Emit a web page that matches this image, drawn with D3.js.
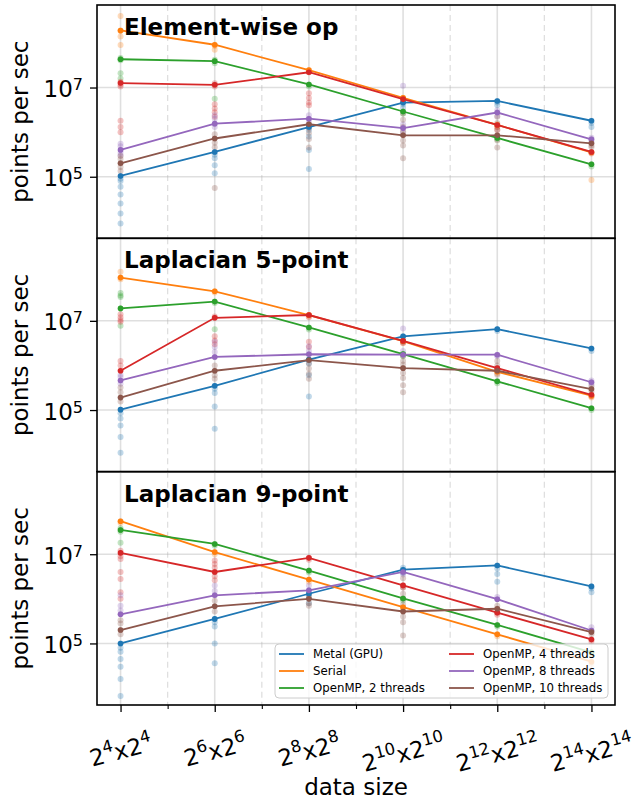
<!DOCTYPE html>
<html>
<head>
<meta charset="utf-8">
<script src="https://cdn.jsdelivr.net/npm/d3@7"></script>
<style>
  body { margin: 0; background: #fff; }
  svg { display: block; font-family: "DejaVu Sans", sans-serif; }
</style>
</head>
<body>
<svg id="chart" width="632" height="800"></svg>
<script>
// ---- data ----------------------------------------------------------------
// grid side length is 2^e, for e in exponents
const exponents = [4, 6, 8, 10, 12, 14];
const minorExponents = [5, 7, 9, 11, 13];
const yTickValues = [1e5, 1e7];
const yTickExponents = ["5", "7"];

const seriesNames = ["Metal (GPU)", "Serial", "OpenMP, 2 threads",
                     "OpenMP, 4 threads", "OpenMP, 8 threads", "OpenMP, 10 threads"];
const seriesColors = ["#1f77b4", "#ff7f0e", "#2ca02c", "#d62728", "#9467bd", "#8c564b"];
const panelTitles = ["Element-wise op", "Laplacian 5-point", "Laplacian 9-point"];

// average throughput (points per sec), one row per series, one column per size
const elementwiseMeans = [
  [1.04e5, 3.6e5, 1.3e6, 4.6e6, 5.0e6, 1.8e6],
  [1.9e8, 9.1e7, 2.45e7, 5.9e6, 1.45e6, 3.5e5],
  [4.3e7, 3.9e7, 1.17e7, 2.9e6, 7.4e5, 1.9e5],
  [1.26e7, 1.15e7, 2.2e7, 5.5e6, 1.45e6, 3.6e5],
  [4.0e5, 1.55e6, 2.0e6, 1.23e6, 2.75e6, 6.9e5],
  [2.0e5, 7.2e5, 1.5e6, 8.5e5, 8.5e5, 5.6e5]
];
const laplace5Means = [
  [1.02e5, 3.5e5, 1.35e6, 4.5e6, 6.5e6, 2.4e6],
  [9.3e7, 4.6e7, 1.35e7, 3.5e6, 7.2e5, 2.1e5],
  [1.9e7, 2.7e7, 7.1e6, 1.8e6, 4.4e5, 1.1e5],
  [7.6e5, 1.17e7, 1.35e7, 3.55e6, 8.7e5, 2.2e5],
  [4.6e5, 1.55e6, 1.78e6, 1.74e6, 1.74e6, 4.2e5],
  [1.9e5, 7.6e5, 1.32e6, 8.7e5, 7.6e5, 2.95e5]
];
const laplace9Means = [
  [1.0e5, 3.55e5, 1.3e6, 4.5e6, 5.6e6, 1.9e6],
  [5.5e7, 1.12e7, 2.7e6, 6.5e5, 1.6e5, 3.9e4],
  [3.5e7, 1.7e7, 4.3e6, 1.02e6, 2.6e5, 6.3e4],
  [1.07e7, 4.0e6, 8.3e6, 2.0e6, 4.9e5, 1.23e5],
  [4.5e5, 1.2e6, 1.55e6, 4.0e6, 9.8e5, 1.95e5],
  [2.0e5, 6.8e5, 1.0e6, 5.2e5, 6.0e5, 1.8e5]
];

// individual runs, one list per series and size
const elementwiseRuns = [
  [[1.04e5, 9e4, 8e4, 6e4, 4e4, 2.5e4, 1.5e4, 9e3], [3.6e5, 3.1e5, 2.6e5, 1.8e5, 1.2e5], [1.3e6, 1.1e6, 8e5, 4e5, 1.5e5], [4.6e6, 4.2e6, 3.5e6], [5.0e6, 4.6e6, 4.0e6], [1.8e6, 1.6e6, 1.3e6]],
  [[4.0e8, 1.9e8, 1.85e8, 1.4e8, 9e7], [9.1e7, 8.5e7, 7e7], [2.45e7, 2.2e7], [5.9e6, 5.4e6], [1.5e6, 1.3e6], [3.5e5, 8.5e4]],
  [[4.3e7, 4.6e7, 4.1e7, 2.1e7, 1.6e7], [3.9e7, 4.2e7, 3.5e7, 5.6e6], [1.17e7, 1.05e7], [2.9e6, 2.6e6], [7.4e5, 6.8e5], [1.9e5, 1.7e5]],
  [[1.26e7, 1.35e7, 1.15e7, 1.05e7, 1.8e6, 1.3e6, 1.0e6], [1.15e7, 1.25e7, 1.05e7, 4.2e6, 3.4e6, 2.8e6, 2.2e6], [2.2e7, 7.4e6, 5.8e6, 4.6e6, 4.0e6], [5.5e6, 4.8e6], [1.45e6, 1.3e6, 1.1e6], [3.6e5, 3.3e5]],
  [[4.0e5, 4.8e5, 5.5e5, 3.4e5, 3.0e5], [1.55e6, 2.0e6, 2.4e6, 1.3e6], [2.0e6, 2.4e6, 1.7e6], [1.23e6, 1.1e7, 1.5e6, 1.0e6], [2.75e6, 2.3e6, 3.1e6], [6.9e5, 6.2e5, 7.5e5]],
  [[2.0e5, 2.5e5, 2.9e5, 1.65e5, 1.35e5], [7.2e5, 9e5, 5.8e5, 4.6e5, 5.6e4], [1.5e6, 1.2e6, 9.5e5, 7e5, 4.5e5], [8.5e5, 2.6e6, 1.9e6, 1.3e6, 1.05e6, 6.5e5, 5e5, 2.6e5], [8.5e5, 2.2e6, 1.6e6, 1.15e6, 6.5e5, 4.5e5], [5.6e5, 5e5, 4.6e5]]
];
const laplace5Runs = [
  [[1.02e5, 8.5e4, 6.5e4, 4.5e4, 2.5e4, 1.1e4], [3.5e5, 3.0e5, 2.4e5, 1.2e5, 3.8e4], [1.35e6, 1.1e6, 6e5, 2e5], [4.5e6, 4.0e6, 3.3e6], [6.5e6, 5.9e6], [2.4e6, 2.1e6]],
  [[1.26e8, 9.3e7, 8.6e7], [4.6e7, 4.3e7], [1.35e7, 1.25e7], [3.5e6, 3.2e6], [7.2e5, 6.6e5], [2.1e5, 1.9e5]],
  [[4.2e7, 3.7e7, 3.4e7, 1.9e7, 7.8e6], [2.7e7, 2.5e7, 6.5e6], [7.1e6, 6.4e6], [1.8e6, 1.6e6], [4.4e5, 4e5], [1.1e5, 1e5]],
  [[1.4e7, 1.2e7, 1.05e7, 9.5e6, 1.25e6, 1.0e6, 7.6e5], [1.17e7, 1.25e7, 4.5e6, 3.6e6, 3.0e6], [1.35e7, 1.2e7, 3.4e6, 2.6e6], [3.55e6, 3.2e6], [8.7e5, 8e5], [2.2e5, 2.0e5]],
  [[4.6e5, 5.5e5, 6.2e5, 3.9e5], [1.55e6, 2.0e6, 2.6e6, 3.4e6], [1.78e6, 2.1e6, 2.7e6], [1.74e6, 6.7e6, 2.1e6], [1.74e6, 1.6e6], [4.2e5, 4.6e5, 3.8e5]],
  [[1.9e5, 2.5e5, 3.2e5, 1.55e5], [7.6e5, 1.0e6, 6e5, 5e5], [1.32e6, 1.1e6, 8.5e5, 6.5e5, 5e5], [8.7e5, 1.65e6, 1.25e6, 1.05e6, 6.8e5, 5.2e5, 3.6e5, 2.5e5], [7.6e5, 1.25e6, 1.0e6, 6.2e5], [2.95e5, 3.4e5, 2.6e5]]
];
const laplace9Runs = [
  [[1.0e5, 8e4, 6.5e4, 4.5e4, 3e4, 1.6e4, 6.6e3], [3.55e5, 3e5, 2.4e5, 1e5, 3.6e4], [1.3e6, 1.1e6, 8e5], [4.5e6, 5.0e6, 3.8e6], [5.6e6, 4.8e6, 3.6e6, 2.4e6], [1.9e6, 1.7e6, 1.4e6]],
  [[5.5e7, 5.0e7], [1.12e7, 1.0e7], [2.7e6, 2.4e6], [6.5e5, 5.8e5], [1.6e5, 1.45e5], [3.9e4, 3.5e4]],
  [[3.5e7, 3.8e7, 3.2e7, 1.8e7], [1.7e7, 1.55e7], [4.3e6, 3.9e6], [1.02e6, 9.2e5], [2.6e5, 2.4e5], [6.3e4, 5.7e4]],
  [[1.07e7, 1.2e7, 9e6, 7.8e6, 4e6, 2.8e6, 1.4e6, 1.0e6], [4.0e6, 7.2e6, 6.0e6, 5.0e6, 3.2e6, 2.6e6], [8.3e6, 7.5e6], [2.0e6, 1.8e6], [4.9e5, 4.4e5], [1.23e5, 1.1e5]],
  [[4.5e5, 5.5e5, 7e5, 1.2e6], [1.2e6, 2.0e6, 1.5e6], [1.55e6, 2.0e6], [4.0e6, 3.5e6], [9.8e5, 1.1e6], [1.95e5, 2.3e5]],
  [[2.0e5, 2.8e5, 3.3e5, 1.6e5], [6.8e5, 9e5, 5.2e5], [1.0e6, 1.2e6, 8e5, 7e5], [5.2e5, 2.9e6, 1.8e6, 1.3e6, 1.0e6, 7.5e5, 4e5, 3e5, 1.5e5], [6.0e5, 7e5, 5e5], [1.8e5, 1.6e5]]
];

// ---- layout --------------------------------------------------------------
const svg = d3.select("#chart");
const plotLeft = 97, plotRight = 615;
const panelTops = [5, 238.3, 471.7];
const panelHeight = 233.3;
const gridColor = "#b0b0b0";

const sizes = exponents.map(e => 2 ** e);
const minorSizes = minorExponents.map(e => 2 ** e);

const x = d3.scaleLog().base(2)
  .domain([2 ** 3.5, 2 ** 14.5])
  .range([plotLeft, plotRight]);

const panels = [
  { title: panelTitles[0], means: elementwiseMeans, runs: elementwiseRuns },
  { title: panelTitles[1], means: laplace5Means, runs: laplace5Runs },
  { title: panelTitles[2], means: laplace9Means, runs: laplace9Runs }
];

panels.forEach((p, i) => {
  const top = panelTops[i], bottom = top + panelHeight;
  const y = d3.scaleLog().domain([10 ** 3.62, 10 ** 8.85]).range([bottom, top]);
  const g = svg.append("g");

  g.append("clipPath").attr("id", "clip" + i)
    .append("rect").attr("x", plotLeft).attr("y", top)
    .attr("width", plotRight - plotLeft).attr("height", panelHeight);

  // grid
  const grid = g.append("g");
  grid.selectAll("line.minor").data(minorSizes).join("line")
    .attr("class", "minor")
    .attr("x1", d => x(d)).attr("x2", d => x(d))
    .attr("y1", top).attr("y2", bottom)
    .attr("stroke", gridColor).attr("stroke-opacity", 0.4)
    .attr("stroke-width", 1.3).attr("stroke-dasharray", "6,4");
  grid.selectAll("line.major").data(sizes).join("line")
    .attr("class", "major")
    .attr("x1", d => x(d)).attr("x2", d => x(d))
    .attr("y1", top).attr("y2", bottom)
    .attr("stroke", gridColor).attr("stroke-opacity", 0.4)
    .attr("stroke-width", 1.6);
  grid.selectAll("line.h").data(yTickValues).join("line")
    .attr("class", "h")
    .attr("x1", plotLeft).attr("x2", plotRight)
    .attr("y1", d => y(d)).attr("y2", d => y(d))
    .attr("stroke", gridColor).attr("stroke-opacity", 0.4)
    .attr("stroke-width", 1.6);

  const data = g.append("g").attr("clip-path", `url(#clip${i})`);

  // individual runs
  const pts = [];
  p.runs.forEach((seriesRuns, s) =>
    seriesRuns.forEach((vals, k) => vals.forEach(v => pts.push({ s, k, v }))));
  data.append("g").selectAll("circle").data(pts).join("circle")
    .attr("cx", d => x(sizes[d.k]))
    .attr("cy", d => y(d.v))
    .attr("r", 3)
    .attr("fill", d => seriesColors[d.s])
    .attr("fill-opacity", 0.28);

  // average lines with markers
  const line = d3.line().x((d, k) => x(sizes[k])).y(d => y(d));
  p.means.forEach((vals, s) => {
    const sg = data.append("g");
    sg.append("path").attr("d", line(vals))
      .attr("fill", "none").attr("stroke", seriesColors[s]).attr("stroke-width", 1.8);
    sg.selectAll("circle").data(vals).join("circle")
      .attr("cx", (d, k) => x(sizes[k])).attr("cy", d => y(d))
      .attr("r", 2.8).attr("fill", seriesColors[s]);
  });

  // y axis
  const yAxis = g.append("g").attr("transform", `translate(${plotLeft},0)`)
    .call(d3.axisLeft(y).tickValues(yTickValues).tickSize(7).tickFormat(""));
  yAxis.select(".domain").remove();
  yAxis.selectAll(".tick line").attr("stroke", "#000").attr("stroke-width", 1.3);

  yTickValues.forEach((v, t) => {
    const txt = g.append("text")
      .attr("x", plotLeft - 14).attr("y", y(v) + 9.5)
      .attr("text-anchor", "end").attr("fill", "#000");
    txt.append("tspan").attr("font-size", 23).text("10");
    txt.append("tspan").attr("font-size", 16).attr("dy", -7).text(yTickExponents[t]);
  });

  // y label
  g.append("text")
    .attr("transform", `translate(20,${(top + bottom) / 2}) rotate(-90)`)
    .attr("text-anchor", "middle").attr("dominant-baseline", "central")
    .attr("font-size", 23).attr("fill", "#000")
    .text("points per sec");

  // panel title
  g.append("text")
    .attr("x", 124).attr("y", top + 30)
    .attr("font-size", 23).attr("font-weight", "bold").attr("fill", "#000")
    .text(p.title);

  // frame
  g.append("rect")
    .attr("x", plotLeft).attr("y", top)
    .attr("width", plotRight - plotLeft).attr("height", panelHeight)
    .attr("fill", "none").attr("stroke", "#000").attr("stroke-width", 1.6);
});

// ---- shared x axis -------------------------------------------------------
const axisY = panelTops[2] + panelHeight;
const xAxis = svg.append("g").attr("transform", `translate(0,${axisY})`);
xAxis.call(d3.axisBottom(x).tickValues(sizes).tickSize(7).tickFormat(""));
xAxis.select(".domain").remove();
xAxis.selectAll(".tick line").attr("stroke", "#000").attr("stroke-width", 1.3);
const xMinor = svg.append("g").attr("transform", `translate(0,${axisY})`);
xMinor.call(d3.axisBottom(x).tickValues(minorSizes).tickSize(4).tickFormat(""));
xMinor.select(".domain").remove();
xMinor.selectAll(".tick line").attr("stroke", "#000").attr("stroke-width", 1.1);

// rotated tick labels of the form 2^e x 2^e
const rot = 15 * Math.PI / 180;
exponents.forEach((e, k) => {
  const lg = svg.append("g");
  const t = lg.append("text").attr("fill", "#000");
  t.append("tspan").attr("font-size", 23).text("2");
  t.append("tspan").attr("font-size", 16.5).attr("dy", -10).text(String(e));
  t.append("tspan").attr("font-size", 23).attr("dy", 10).text("x2");
  t.append("tspan").attr("font-size", 16.5).attr("dy", -10).text(String(e));
  const bb = t.node().getBBox();
  const cx = bb.x + bb.width / 2, cy = bb.y + bb.height / 2;
  const h = bb.width * Math.sin(rot) + bb.height * Math.cos(rot);
  lg.attr("transform",
    `translate(${x(sizes[k])},${axisY + 21 + h / 2}) rotate(-15) translate(${-cx},${-cy})`);
});

svg.append("text")
  .attr("x", (plotLeft + plotRight) / 2).attr("y", 795)
  .attr("text-anchor", "middle").attr("font-size", 23).attr("fill", "#000")
  .text("data size");

// ---- legend --------------------------------------------------------------
const legend = svg.append("g");
legend.append("rect")
  .attr("x", 275).attr("y", 644).attr("width", 333).attr("height", 54)
  .attr("rx", 4).attr("fill", "#fff").attr("fill-opacity", 0.8)
  .attr("stroke", "#cccccc").attr("stroke-width", 1);
seriesNames.forEach((name, s) => {
  const col = Math.floor(s / 3), row = s % 3;
  const lx = col === 0 ? 279 : 449;
  const ly = 654 + row * 17;
  legend.append("line")
    .attr("x1", lx).attr("x2", lx + 25).attr("y1", ly).attr("y2", ly)
    .attr("stroke", seriesColors[s]).attr("stroke-width", 1.8);
  legend.append("text")
    .attr("x", lx + 34).attr("y", ly)
    .attr("dominant-baseline", "central")
    .attr("font-size", 11.75).attr("fill", "#000")
    .text(name);
});
</script>
</body>
</html>
